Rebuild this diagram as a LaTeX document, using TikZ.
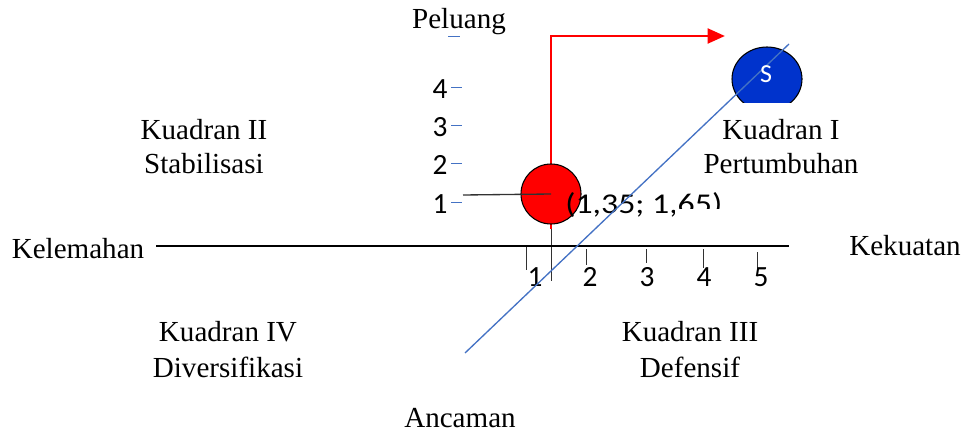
\documentclass[tikz,border=0pt]{standalone}
\usepackage{fontspec}
\setmainfont{Liberation Serif}
\newfontfamily\angkafont{Carlito}
\newfontfamily\angkalebar[FakeStretch=1.18]{Carlito}
\usetikzlibrary{arrows.meta,shapes.geometric}
\definecolor{garisbiru}{RGB}{68,114,196}
\definecolor{birutua}{RGB}{0,51,204}
\definecolor{abu}{RGB}{50,50,50}

\begin{document}
\begin{tikzpicture}[x=0.75pt,y=-0.75pt,
  teks/.style={font=\fontsize{21.8}{25.5}\selectfont, align=center, anchor=base, inner sep=0pt},
  teksb/.style={teks, font=\fontsize{21.8}{27}\selectfont},
  angka/.style={font=\angkafont\fontsize{22}{26}\selectfont, anchor=base, inner sep=0pt}]
\useasboundingbox (0,0) rectangle (964,432);

\node[teks] (P) at (459,28) {Peluang};
\node[teks] (A) at (460,427) {Ancaman};
\node[teks] (L) at (78,258) {Kelemahan};
\node[teks] (K) at (905,255) {Kekuatan};
\node[teks] (Q1) at (781,173) {Kuadran I\\Pertumbuhan};
\node[teks] (Q2) at (204,173) {Kuadran II\\Stabilisasi};
\node[teksb] (Q3) at (690,377) {Kuadran III\\Defensif};
\node[teksb] (Q4) at (228,377) {Kuadran IV\\Diversifikasi};

%sumbu peluang
\draw[garisbiru] (448,36) -- (460,36);
\foreach \n/\y in {4/98,3/136,2/174,1/213}
{
\node[angka] (Y\n) at (440,\y) {\n};
\draw[garisbiru] (451,\y-11) -- (462,\y-11);
}

%garis merah dan titik posisi
\coordinate (R0) at (551,229);
\coordinate (R2) at (725,36);
\draw[red, line width=2.2pt, -{Triangle[length=13pt,width=11pt]}] (R0) |- (R2);
\node[circle, draw=black, fill=red, minimum size=45pt, inner sep=0pt, line width=0.8pt] (T) at (551,194) {};
\coordinate (H) at (463,195);
\draw[abu, line width=1pt] (H) -- (T.center);
\begin{scope}
\clip (555,180) -- (730,180) -- (730,208) -- (674,208) -- (674,222) -- (555,222) -- cycle;
\node[font=\angkalebar\fontsize{21.5}{26}\selectfont, anchor=base west, inner sep=0pt] (TL) at (565,213) {(1,35; 1,65)};
\end{scope}
\coordinate (V1) at (551,281);
\draw[abu] (R0) -- (V1);

%sumbu kekuatan
\coordinate (X0) at (156,246);
\coordinate (X1) at (789,246);
\draw[line width=0.9pt] (X0) -- (X1);
\foreach \n/\x/\t/\a/\b in {1/535/526/247/270, 2/590/586/249/265, 3/647/646/249/263, 4/704/703/249/268, 5/761/757/252/270}
{
\draw[abu] (\t,\a) -- (\t,\b);
\node[angka] (N\n) at (\x,286) {\n};
}

%lingkaran S
\begin{scope}
\clip (720,40) rectangle (815,102);
\node[ellipse, draw, fill=birutua, minimum width=52.5pt, minimum height=48pt, inner sep=0pt, line width=0.8pt] (S) at (767,79) {};
\end{scope}
\coordinate (D0) at (465,353);
\coordinate (D1) at (789,44);
\draw[garisbiru, line width=1pt] (D0) -- (D1);
\node[font=\angkafont\fontsize{19.5}{22}\selectfont, text=white] (St) at (766,74) {S};

\end{tikzpicture}
\end{document}
